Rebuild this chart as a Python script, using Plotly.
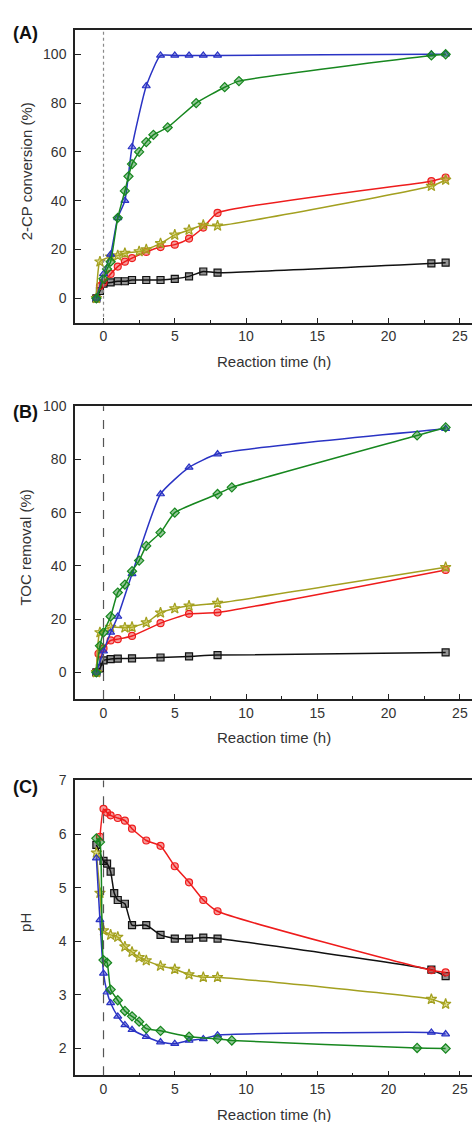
import plotly.graph_objects as go

# ---------------- data ----------------
# Panel A: 2-CP conversion (%)
a_black_t = [-0.5, -0.25, 0, 0.5, 1, 1.5, 2, 3, 4, 5, 6, 7, 8, 23, 24]
a_black_v = [0, 3, 6, 6.5, 7, 7, 7.5, 7.5, 7.5, 8, 9, 11, 10.5, 14.3, 14.6]
a_red_t = [-0.5, -0.25, 0, 0.5, 1, 1.5, 2, 3, 4, 5, 6, 7, 8, 23, 24]
a_red_v = [0, 5, 6.5, 10, 13, 15, 16.5, 19, 21, 22, 24.5, 29, 35, 48, 49.5]
a_star_t = [-0.5, -0.25, 0.5, 1, 1.5, 2.5, 3, 4, 5, 6, 7, 8, 23, 24]
a_star_v = [0, 15, 17, 17.5, 18.5, 19.2, 20, 22.5, 26, 28, 30, 29.7, 46, 48.5]
a_blue_t = [-0.5, 0, 0.5, 1, 1.5, 2, 3, 4, 5, 6, 7, 8, 23, 24]
a_blue_v = [0, 10, 18, 33, 40, 62, 87, 99.5, 99.5, 99.5, 99.5, 99.5, 100, 100]
a_green_t = [-0.5, 0, 0.25, 0.5, 1, 1.5, 1.75, 2, 2.5, 3, 3.5, 4.5, 6.5, 8.5, 9.5, 23, 24]
a_green_v = [0, 8, 12, 15, 33, 44, 50, 55, 60, 64, 67, 70, 80, 86.5, 89, 99.5, 100]

# Panel B: TOC removal (%)
b_black_t = [-0.5, -0.25, 0, 0.5, 1, 2, 4, 6, 8, 24]
b_black_v = [0, 1.5, 4.5, 5, 5.2, 5.3, 5.6, 6, 6.5, 7.5]
b_red_t = [-0.5, -0.35, 0, 0.5, 1, 2, 4, 6, 8, 24]
b_red_v = [0, 7, 9, 12, 12.5, 13.7, 18.5, 22, 22.5, 38.5]
b_star_t = [-0.5, -0.25, 0.5, 1.5, 2, 3, 4, 5, 6, 8, 24]
b_star_v = [0, 15, 17, 16.8, 17, 18.7, 22.4, 24, 25, 26, 39.5]
b_blue_t = [-0.5, 0, 0.5, 1, 2, 4, 6, 8, 24]
b_blue_v = [0, 8, 15, 21, 37, 67, 77, 82, 91.5]
b_green_t = [-0.5, -0.25, 0, 0.5, 1, 1.5, 2, 2.5, 3, 4, 5, 8, 9, 22, 24]
b_green_v = [0, 10, 15, 21, 30, 33, 38, 42, 47.5, 52.5, 60, 67, 69.5, 89, 92]

# Panel C: pH
c_black_t = [-0.5, 0, 0.25, 0.5, 0.75, 1, 1.5, 2, 3, 4, 5, 6, 7, 8, 23, 24]
c_black_v = [5.8, 5.5, 5.45, 5.3, 4.9, 4.77, 4.7, 4.3, 4.3, 4.12, 4.05, 4.05, 4.07, 4.05, 3.47, 3.35]
c_red_t = [-0.25, 0, 0.25, 0.5, 1, 1.5, 2, 3, 4, 5, 6, 7, 8, 23, 24]
c_red_v = [5.95, 6.47, 6.4, 6.35, 6.3, 6.25, 6.1, 5.88, 5.78, 5.4, 5.1, 4.77, 4.56, 3.46, 3.42]
c_star_t = [-0.5, -0.25, 0, 0.5, 1, 1.5, 2, 2.5, 3, 4, 5, 6, 7, 8, 23, 24]
c_star_v = [5.65, 4.9, 4.2, 4.12, 4.08, 3.9, 3.8, 3.7, 3.64, 3.54, 3.48, 3.38, 3.33, 3.33, 2.92, 2.83]
c_blue_t = [-0.5, -0.25, 0, 0.25, 0.5, 1, 1.5, 2, 3, 4, 5, 6, 7, 8, 23, 24]
c_blue_v = [5.55, 4.4, 3.4, 3.05, 2.85, 2.6, 2.44, 2.35, 2.22, 2.12, 2.09, 2.15, 2.18, 2.25, 2.3, 2.27]
c_green_t = [-0.5, -0.25, 0, 0.25, 0.5, 1, 1.5, 2, 2.5, 3, 4, 6, 8, 9, 22, 24]
c_green_v = [5.92, 5.85, 3.65, 3.6, 3.1, 2.9, 2.7, 2.6, 2.5, 2.37, 2.33, 2.22, 2.18, 2.15, 2.01, 2.0]

x_ticks = [0, 5, 10, 15, 20, 25]
a_yticks = [0, 20, 40, 60, 80, 100]
b_yticks = [0, 20, 40, 60, 80, 100]
c_yticks = [2, 3, 4, 5, 6, 7]

panel_labels = ["(A)", "(B)", "(C)"]
y_titles = ["2-CP conversion (%)", "TOC removal (%)", "pH"]
x_title = "Reaction time (h)"

# ---------------- styles ----------------
styles = {
    "black": ("#111111", "rgba(17,17,17,0.45)", "square"),
    "red": ("#ee1c1c", "rgba(238,28,28,0.45)", "circle"),
    "star": ("#a3a020", "rgba(190,185,40,0.5)", "star"),
    "blue": ("#2a33c4", "rgba(42,51,196,0.45)", "triangle-up"),
    "green": ("#17871f", "rgba(23,135,31,0.45)", "diamond"),
}

panels = [
    (a_black_t, a_black_v, a_red_t, a_red_v, a_star_t, a_star_v, a_blue_t, a_blue_v, a_green_t, a_green_v),
    (b_black_t, b_black_v, b_red_t, b_red_v, b_star_t, b_star_v, b_blue_t, b_blue_v, b_green_t, b_green_v),
    (c_black_t, c_black_v, c_red_t, c_red_v, c_star_t, c_star_v, c_blue_t, c_blue_v, c_green_t, c_green_v),
]

W, H = 472, 1122
boxes = [(22, 317), (401, 696), (778, 1075)]
x_left = 75
yranges = [[-10, 110], [-10, 100], [1.5, 7]]
ytick_sets = [a_yticks, b_yticks, c_yticks]
label_centers = [25, 407, 785]

fig = go.Figure()
order = ["black", "red", "star", "blue", "green"]
for i, p in enumerate(panels):
    xa = "x" if i == 0 else f"x{i+1}"
    ya = "y" if i == 0 else f"y{i+1}"
    for k, name in enumerate(order):
        t, v = p[2 * k], p[2 * k + 1]
        lc, fc, sym = styles[name]
        fig.add_trace(go.Scatter(
            x=t, y=v, mode="lines+markers", xaxis=xa, yaxis=ya,
            line=dict(color=lc, width=1.5, shape="spline", smoothing=0.5),
            marker=dict(symbol=sym, size=7 if name != "star" else 8, color=fc,
                        line=dict(color=lc, width=1.2)),
            showlegend=False, hoverinfo="skip"))

layout = dict(
    width=W, height=H, paper_bgcolor="white", plot_bgcolor="white",
    margin=dict(l=0, r=0, t=0, b=0),
    font=dict(family="Liberation Sans, Arial, sans-serif", color="#333333", size=14),
)
shapes = []
annotations = []
for i in range(3):
    top, bot = boxes[i]
    sfx = "" if i == 0 else str(i + 1)
    dom_y = [1 - bot / H, 1 - top / H]
    layout["xaxis" + sfx] = dict(
        domain=[x_left / W, 1.0], range=[-2, 25.85], anchor="y" + sfx,
        tickvals=x_ticks, ticks="inside", ticklen=5, tickwidth=1, tickcolor="#222",
        minor=dict(dtick=2.5, tick0=0, ticks="inside", ticklen=3, tickcolor="#222"),
        showline=True, linecolor="#222", linewidth=1.5, mirror=True,
        showgrid=False, zeroline=False, tickfont=dict(size=14, color="#333"),
    )
    layout["yaxis" + sfx] = dict(
        domain=dom_y, range=yranges[i], anchor="x" + sfx,
        tickvals=ytick_sets[i], ticks="inside", ticklen=6, tickwidth=1, tickcolor="#222",
        showline=True, linecolor="#222", linewidth=1.5, ticklabelstandoff=4,
        showgrid=False, zeroline=False, tickfont=dict(size=14, color="#333"),
    )
    shapes.append(dict(
        type="line", xref="x" + sfx, yref="y" + sfx + " domain", x0=0, x1=0, y0=0, y1=1,
        line=dict(color="#8a8a8a" if i == 0 else "#555555", width=1.2,
                  dash="dot" if i == 0 else "dash")))
    annotations.append(dict(
        text="<b>" + panel_labels[i] + "</b>", xref="paper", yref="paper",
        x=11 / W, y=1 - label_centers[i] / H, xanchor="left", yanchor="middle",
        showarrow=False, font=dict(size=18, color="#111")))
    annotations.append(dict(
        text=y_titles[i], xref="paper", yref="paper", textangle=-90,
        x=26 / W, y=1 - ((top + bot) / 2 - 5) / H, xanchor="center", yanchor="middle",
        showarrow=False, font=dict(size=15, color="#333")))
    annotations.append(dict(
        text=x_title, xref="paper", yref="paper",
        x=(x_left + W) / 2 / W, y=1 - (bot + 39) / H, xanchor="center", yanchor="middle",
        showarrow=False, font=dict(size=15, color="#333")))

layout["shapes"] = shapes
layout["annotations"] = annotations
fig.update_layout(**layout)
fig.write_html("out.html")
